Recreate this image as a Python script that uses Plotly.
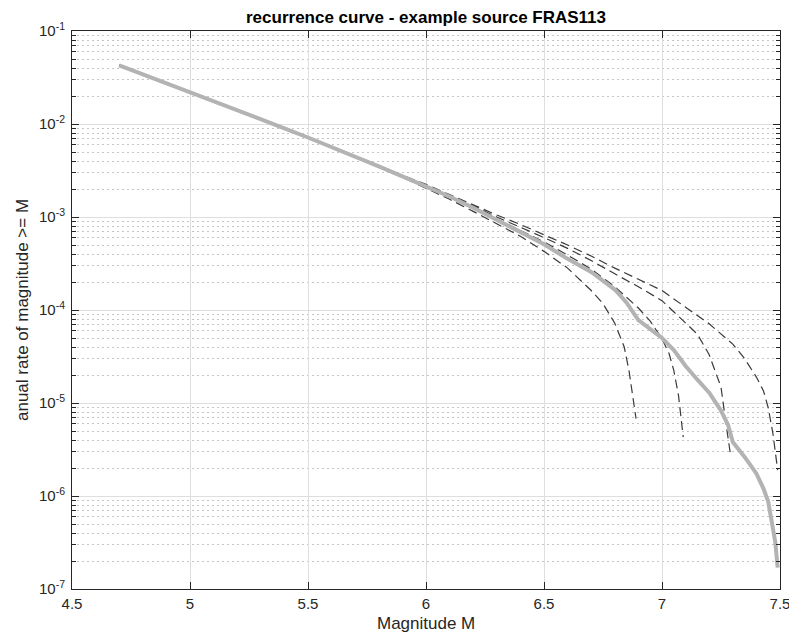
import plotly.graph_objects as go

# Magnitude grid shared by the low-magnitude part of every curve
mag_common = [4.7, 4.8, 4.9, 5.0, 5.1, 5.2, 5.3, 5.4, 5.5, 5.6, 5.7, 5.8]
rate_common = [4.27e-2, 3.43e-2, 2.75e-2, 2.20e-2, 1.77e-2, 1.41e-2, 1.13e-2,
               9.0e-3, 7.16e-3, 5.68e-3, 4.47e-3, 3.51e-3]

# Weighted recurrence curve (thick gray)
mag_mean = mag_common + [5.9, 6.0, 6.1, 6.2, 6.3, 6.4, 6.5, 6.6, 6.7, 6.8, 6.85,
                         6.9, 6.95, 7.0, 7.05, 7.1, 7.15, 7.2, 7.25, 7.28, 7.3,
                         7.35, 7.4, 7.43, 7.45, 7.47, 7.48, 7.49]
rate_mean = rate_common + [2.74e-3, 2.14e-3, 1.66e-3, 1.26e-3, 9.3e-4, 6.9e-4,
                           5.1e-4, 3.55e-4, 2.57e-4, 1.66e-4, 1.20e-4, 7.8e-5,
                           6.3e-5, 5.0e-5, 3.7e-5, 2.5e-5, 1.78e-5, 1.29e-5,
                           8.3e-6, 5.8e-6, 3.8e-6, 2.63e-6, 1.74e-6, 1.2e-6,
                           8.7e-7, 4.8e-7, 3.2e-7, 1.7e-7]

# Branch curves for the individual maximum magnitudes (dashed)
mag_mmax69 = mag_common + [5.9, 6.0, 6.1, 6.2, 6.3, 6.4, 6.5, 6.6, 6.7, 6.75,
                           6.8, 6.84, 6.86, 6.88, 6.89]
rate_mmax69 = rate_common + [2.69e-3, 2.04e-3, 1.55e-3, 1.15e-3, 8.5e-4, 6.2e-4,
                             4.27e-4, 2.82e-4, 1.62e-4, 1.17e-4, 7.2e-5, 4.0e-5,
                             2.24e-5, 1.07e-5, 6.8e-6]

mag_mmax71 = mag_common + [5.9, 6.0, 6.1, 6.2, 6.3, 6.4, 6.5, 6.6, 6.7, 6.8,
                           6.9, 6.95, 7.0, 7.03, 7.05, 7.07, 7.08, 7.09]
rate_mmax71 = rate_common + [2.75e-3, 2.14e-3, 1.66e-3, 1.26e-3, 9.5e-4, 7.2e-4,
                             5.4e-4, 3.9e-4, 2.75e-4, 1.78e-4, 1.05e-4, 7.6e-5,
                             4.9e-5, 3.4e-5, 2.24e-5, 1.2e-5, 7.1e-6, 4.3e-6]

mag_mmax73 = mag_common + [5.9, 6.0, 6.1, 6.2, 6.3, 6.4, 6.5, 6.6, 6.7, 6.8,
                           6.9, 7.0, 7.1, 7.15, 7.2, 7.25, 7.27, 7.29]
rate_mmax73 = rate_common + [2.78e-3, 2.19e-3, 1.70e-3, 1.32e-3, 1.0e-3, 7.8e-4,
                             6.0e-4, 4.6e-4, 3.4e-4, 2.45e-4, 1.78e-4, 1.26e-4,
                             7.2e-5, 5.5e-5, 3.3e-5, 1.48e-5, 6.3e-6, 2.8e-6]

mag_mmax75 = mag_common + [5.9, 6.0, 6.1, 6.2, 6.3, 6.4, 6.5, 6.6, 6.7, 6.8,
                           6.9, 7.0, 7.1, 7.2, 7.3, 7.35, 7.4, 7.43, 7.45, 7.47,
                           7.48, 7.49]
rate_mmax75 = rate_common + [2.8e-3, 2.24e-3, 1.74e-3, 1.35e-3, 1.05e-3, 8.3e-4,
                             6.5e-4, 5.0e-4, 3.8e-4, 2.82e-4, 2.14e-4, 1.62e-4,
                             1.07e-4, 7.1e-5, 4.3e-5, 3.0e-5, 1.9e-5, 1.35e-5,
                             8.9e-6, 4.7e-6, 3.0e-6, 1.9e-6]

branches = [(mag_mmax69, rate_mmax69), (mag_mmax71, rate_mmax71),
            (mag_mmax73, rate_mmax73), (mag_mmax75, rate_mmax75)]

# Axis ticks
x_ticks = [4.5, 5.0, 5.5, 6.0, 6.5, 7.0, 7.5]
x_tick_text = ["4.5", "5", "5.5", "6", "6.5", "7", "7.5"]
y_exponents = [-7, -6, -5, -4, -3, -2, -1]

FONT = "Liberation Sans, Arial, Helvetica, sans-serif"
AXIS_COLOR = "#262626"

fig = go.Figure()

# dashed branches first so the thick mean curve sits on top of them
for mags, rates in branches:
    fig.add_trace(go.Scatter(
        x=mags, y=rates, mode="lines",
        line=dict(color="#3a3a3a", width=1.2, dash="9px,5px"),
        showlegend=False, hoverinfo="skip"))

fig.add_trace(go.Scatter(
    x=mag_mean, y=rate_mean, mode="lines",
    line=dict(color="#b3b3b3", width=4),
    showlegend=False, hoverinfo="skip"))

y_major = [10.0 ** e for e in y_exponents]
y_minor = [k * 10.0 ** e for e in y_exponents[:-1] for k in range(2, 10)]

fig.update_xaxes(
    range=[4.5, 7.5], tickmode="array", tickvals=x_ticks, ticktext=x_tick_text,
    ticks="inside", ticklen=7, tickwidth=1, tickcolor=AXIS_COLOR,
    showline=True, linecolor=AXIS_COLOR, linewidth=1, mirror="allticks",
    showgrid=True, gridcolor="#dedede", gridwidth=1, zeroline=False,
    tickfont=dict(family=FONT, size=15, color=AXIS_COLOR),
    ticklabelstandoff=1, ticklabeloverflow="allow", automargin=False,
)
fig.update_yaxes(
    type="log", range=[-7, -1], tickmode="array", tickvals=y_major,
    ticktext=["10<sup>%d</sup>" % e for e in y_exponents],
    ticks="inside", ticklen=7, tickwidth=1, tickcolor=AXIS_COLOR,
    showline=True, linecolor=AXIS_COLOR, linewidth=1, mirror="allticks",
    showgrid=True, gridcolor="#dedede", gridwidth=1, zeroline=False,
    tickfont=dict(family=FONT, size=15, color=AXIS_COLOR),
    ticklabelstandoff=3, ticklabeloverflow="allow", automargin=False,
    minor=dict(tickmode="array", tickvals=y_minor, ticks="inside", ticklen=4,
               tickcolor=AXIS_COLOR, showgrid=True, gridcolor="#c4c4c4",
               griddash="2px,3px", gridwidth=1),
)

fig.update_layout(
    width=789, height=632,
    margin=dict(l=72, r=9, t=31, b=43, autoexpand=False),
    paper_bgcolor="white", plot_bgcolor="white",
    showlegend=False,
    annotations=[
        dict(text="<b>recurrence curve - example source FRAS113</b>",
             xref="paper", yref="paper", x=0.5, y=1, yshift=14,
             xanchor="center", yanchor="middle", showarrow=False,
             font=dict(family=FONT, size=17, color="#000000")),
        dict(text="Magnitude M", xref="paper", yref="paper", x=0.5, y=0,
             yshift=-34, xanchor="center", yanchor="middle", showarrow=False,
             font=dict(family=FONT, size=17, color=AXIS_COLOR)),
        dict(text="anual rate of magnitude >= M", xref="paper", yref="paper",
             x=0, y=0.5, xshift=-50, xanchor="center", yanchor="middle",
             textangle=-90, showarrow=False,
             font=dict(family=FONT, size=17, color=AXIS_COLOR)),
    ],
)

fig.write_html("out.html")
